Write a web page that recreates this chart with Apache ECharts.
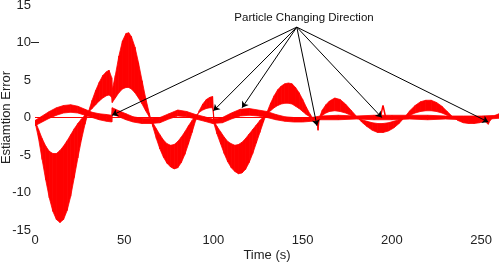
<!DOCTYPE html>
<html>
<head>
<meta charset="utf-8">
<script src="https://cdn.jsdelivr.net/npm/echarts@6/dist/echarts.min.js"></script>
<style>html,body{margin:0;padding:0;background:#fff}#c{width:500px;height:262px}</style>
</head>
<body>
<div id="c"></div>
<script>
// ---- data ----
var xTicks = [0, 50, 100, 150, 200, 250];
var yTicks = [-15, -10, -5, 0, 5, 10, 15];
// main bundle: time samples, outer-most particle and inner-most particle
var mainT = [0,2,4,6,8,10,12,14,16,18,20,22,24,26,28,30,32,34,36,38,40,41.5,43,43.3,45,47,49,51,52.5,54,56,58,60,62,64,66,68,70,72,74,76,78,80,82,84,86,88,90,92,94,96,98,99.5,100.4,102,104,106,108,110,112,114,116,118,120,122,124,126,128,130,132,134,136,138,140,142,144,146,148,150,152,154,156,158,158.6,159.5,161,163,165,168,171,174,177,180,183,186,189,192,195,198,201,204,207,210,213,216,219,222,225,228,231,234,237,240,243,246,249,252,254,255,258,260];
var mainOuter = [-0.6,-2.8,-5.6,-8.3,-10.7,-12.5,-13.6,-14.0,-13.6,-12.4,-10.5,-8.0,-5.4,-3.0,-0.9,0.8,2.3,3.6,4.7,5.6,6.1,6.3,5.3,3.7,5.6,8.2,10.2,11.2,11.3,10.8,9.4,7.3,4.9,2.6,0.6,-1.2,-2.8,-4.2,-5.3,-6.1,-6.6,-6.85,-6.7,-6.0,-4.9,-3.5,-2.0,-0.4,0.9,1.8,2.4,2.7,2.8,-0.9,-2.2,-3.5,-4.8,-5.9,-6.7,-7.2,-7.5,-7.4,-6.9,-6.0,-4.8,-3.4,-2.0,-0.6,0.7,1.9,2.9,3.7,4.2,4.5,4.6,4.5,4.0,3.3,2.4,1.4,0.5,-0.2,-0.7,-1.7,0.1,1.0,1.7,2.2,2.6,2.4,1.8,1.0,0.2,-0.6,-1.2,-1.7,-2.0,-2.0,-1.8,-1.4,-0.8,0.0,0.9,1.6,2.1,2.3,2.3,2.0,1.5,0.8,0.1,-0.4,-0.7,-0.8,-0.8,-0.7,-0.5,-0.9,-0.4,0.3,0.5];
var mainInner = [-0.4,-1.6,-2.8,-3.8,-4.5,-4.8,-4.8,-4.4,-3.8,-3.1,-2.3,-1.5,-0.8,-0.2,0.3,0.7,1.2,1.7,2.2,2.6,2.9,3.0,2.7,2.0,2.6,3.3,3.8,4.0,4.0,3.8,3.3,2.6,1.8,0.9,0.1,-0.7,-1.5,-2.3,-3.0,-3.5,-3.7,-3.6,-3.2,-2.6,-1.9,-1.1,-0.4,0.2,0.7,1.0,1.2,1.3,1.3,-0.5,-1.2,-1.9,-2.6,-3.2,-3.5,-3.7,-3.6,-3.3,-2.8,-2.2,-1.6,-1.0,-0.4,0.1,0.5,0.9,1.3,1.6,1.8,1.9,1.9,1.8,1.5,1.2,0.8,0.4,0.1,-0.1,-0.2,-0.3,0.0,0.3,0.6,0.8,0.9,0.8,0.6,0.3,0.0,-0.3,-0.5,-0.7,-0.8,-0.8,-0.7,-0.5,-0.3,0.0,0.3,0.6,0.8,0.9,0.9,0.8,0.6,0.3,0.0,-0.1,-0.1,-0.1,-0.1,-0.1,0.0,-0.2,-0.1,0.1,0.2];
// small-amplitude family: lower and upper edge
var smallT = [0,4,8,12,16,20,24,28,32,36,40,43,43.3,47,51,55,60,65,70,75,80,85,90,95,99.5,105,110,115,120,125,130,135,140,145,150,155,160,170,180,190,200,210,220,230,240,250,260];
var smallLow = [-1.1,-0.6,-0.1,0.3,0.6,0.7,0.6,0.3,0.0,-0.3,-0.5,-0.6,0.5,0.1,-0.3,-0.6,-0.8,-0.8,-0.7,-0.2,0.2,0.1,-0.2,-0.5,-0.8,-0.7,-0.2,0.2,0.3,0.2,0.0,-0.3,-0.5,-0.6,-0.6,-0.5,-0.3,-0.3,-0.2,-0.3,-0.3,-0.2,-0.3,-0.2,-0.3,-0.3,-0.1];
var smallHigh = [-0.4,0.2,0.8,1.3,1.6,1.7,1.5,1.1,0.7,0.5,0.4,0.3,1.3,0.9,0.5,0.1,-0.1,-0.1,0.0,0.5,1.0,0.8,0.4,0.1,-0.2,0.0,0.6,1.1,1.2,1.0,0.8,0.4,0.1,0.0,0.0,0.0,0.2,0.3,0.2,0.3,0.3,0.3,0.3,0.2,0.2,0.2,0.3];
// zero-error particle and the upward spike near t=195
var zeroT = [0, 260];
var zeroV = [0, 0];
var spikeT = [193.5, 195, 196.5];
var spikeV = [0, 1.6, 0];
// annotation: arrow origin and targets (data units)
var arrowFrom = [146.7, 12.05];
var arrowTo = [[43.2, 0.3], [100, 0.9], [116, 1.3], [158, -1.1], [194.3, 0.0], [254, -0.6]];
var noteText = 'Particle Changing Direction';

// ---- build ----
var RED = '#ff0000';
function pairs(t, v) { return t.map(function (x, i) { return [x, v[i]]; }); }
function triples(t, a, b) { return t.map(function (x, i) { return [x, a[i], b[i]]; }); }
// draws the band between two edges, one segment per data item, through the axes' scales
function bandItem(params, api) {
  var i = params.dataIndexInside;
  if (i >= params.dataInsideLength - 1) return null;
  var t0 = api.value(0, i), a0 = api.value(1, i), b0 = api.value(2, i);
  var t1 = api.value(0, i + 1), a1 = api.value(1, i + 1), b1 = api.value(2, i + 1);
  var pts = [api.coord([t0, a0]), api.coord([t1, a1]), api.coord([t1, b1]), api.coord([t0, b0])];
  return {
    type: 'polygon',
    shape: {points: pts},
    style: {fill: RED, stroke: RED, lineWidth: 0.8}
  };
}
function bandSeries(name, data) {
  return {type: 'custom', name: name, data: data, renderItem: bandItem, clip: true,
          encode: {x: 0, y: [1, 2]}, silent: true};
}
var chart = echarts.init(document.getElementById('c'), null, {renderer: 'canvas'});
var tickStyle = {show: true, inside: true, length: 4, lineStyle: {color: '#222', width: 1}};
var font = 'Liberation Sans, Arial, Helvetica, sans-serif';
chart.setOption({
  animation: false,
  backgroundColor: '#fff',
  grid: {left: 35, top: 5, width: 464, height: 225, containLabel: false, outerBoundsMode: 'none'},
  xAxis: [{
    type: 'value', min: 0, max: 260, interval: 50, position: 'bottom',
    name: 'Time (s)', nameLocation: 'middle', nameGap: 19, nameMoveOverlap: false,
    nameTextStyle: {color: '#222', fontSize: 13, fontFamily: font},
    axisLine: {show: false}, splitLine: {show: false},
    axisTick: Object.assign({customValues: [100]}, tickStyle),
    axisLabel: {color: '#222', fontSize: 13, fontFamily: font, margin: 4, customValues: xTicks}
  }, {
    type: 'value', min: 0, max: 260, position: 'top',
    axisLine: {show: false}, splitLine: {show: false},
    axisTick: Object.assign({customValues: [100]}, tickStyle),
    axisLabel: {show: false}
  }],
  yAxis: [{
    type: 'value', min: -15, max: 15, interval: 5, position: 'left',
    name: 'Estiamtion Error', nameLocation: 'middle', nameGap: 22, nameMoveOverlap: false,
    nameTextStyle: {color: '#222', fontSize: 13, fontFamily: font},
    axisLine: {show: false}, splitLine: {show: false},
    axisTick: Object.assign({customValues: [10]}, tickStyle),
    axisLabel: {color: '#222', fontSize: 13, fontFamily: font, margin: 4, customValues: yTicks}
  }, {
    type: 'value', min: -15, max: 15, position: 'right',
    axisLine: {show: false}, splitLine: {show: false},
    axisTick: Object.assign({customValues: [10]}, tickStyle),
    axisLabel: {show: false}
  }],
  series: [
    bandSeries('small', triples(smallT, smallHigh, smallLow)),
    bandSeries('main', triples(mainT, mainOuter, mainInner)),
    {type: 'line', name: 'spike', data: pairs(spikeT, spikeV), symbol: 'none', lineStyle: {color: RED, width: 1.5}},
    {type: 'line', name: 'zero', data: pairs(zeroT, zeroV), symbol: 'none', lineStyle: {color: RED, width: 1.2},
     markLine: {
       silent: true, symbol: ['none', 'arrow'], symbolSize: 6,
       label: {show: false},
       lineStyle: {color: '#000', width: 1, type: 'solid'},
       emphasis: {disabled: true},
       data: arrowTo.map(function (p) { return [{coord: arrowFrom}, {coord: p}]; })
     }}
  ],
  graphic: [{
    type: 'text', x: 304, y: 18,
    style: {text: noteText, fill: '#111', font: '11.5px ' + font, textAlign: 'center', textVerticalAlign: 'middle'}
  }]
});
</script>
</body>
</html>
